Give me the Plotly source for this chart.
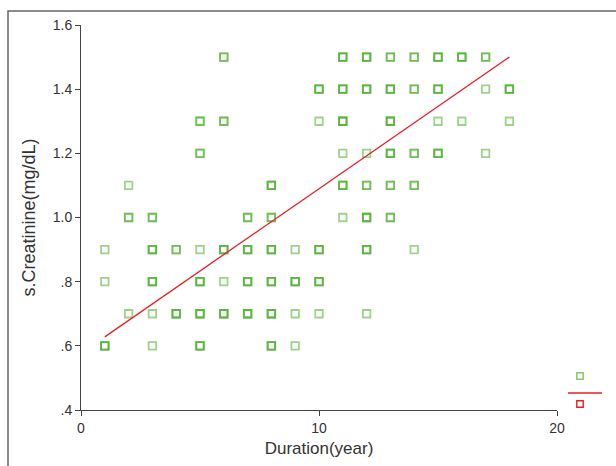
import numpy as np
import plotly.graph_objects as go

# Observed points: (duration, creatinine, how many overlapping observations the shade suggests)
duration = [6, 11, 12, 13, 14, 15, 16, 17,
            10, 11, 12, 13, 14, 15, 17, 18,
            5, 6, 10, 11, 13, 15, 16, 18,
            5, 11, 12, 13, 14, 15, 17,
            2, 8, 11, 12, 13, 14,
            2, 3, 7, 8, 11, 12, 13,
            1, 3, 4, 5, 6, 7, 8, 9, 10, 12, 14,
            1, 3, 5, 6, 7, 8, 9, 10,
            2, 3, 4, 5, 6, 7, 8, 9, 10, 12,
            1, 3, 5, 8, 9]
creatinine = [1.5] * 8 + [1.4] * 8 + [1.3] * 8 + [1.2] * 7 + [1.1] * 6 + [1.0] * 7 \
    + [0.9] * 11 + [0.8] * 8 + [0.7] * 10 + [0.6] * 5
overlap = [2, 3, 3, 2, 2, 3, 3, 2,
           3, 3, 3, 3, 2, 3, 1, 3,
           2, 2, 1, 3, 3, 1, 1, 1,
           2, 1, 1, 3, 2, 3, 1,
           1, 3, 3, 2, 2, 2,
           2, 2, 2, 2, 1, 3, 2,
           1, 3, 2, 1, 3, 3, 3, 1, 3, 3, 1,
           1, 3, 3, 1, 3, 3, 3, 3,
           1, 1, 3, 3, 3, 3, 3, 1, 1, 1,
           3, 1, 3, 3, 1]

# Linear fit line
fit_x = [1, 18]
fit_y = [0.628, 1.50]

x_ticks = [0, 10, 20]
x_ticktext = ["0", "10", "20"]
y_ticks = [0.4, 0.6, 0.8, 1.0, 1.2, 1.4, 1.6]
y_ticktext = [".4", ".6", ".8", "1.0", "1.2", "1.4", "1.6"]

px_x = np.repeat(duration, overlap)
px_y = np.repeat(creatinine, overlap)

W, H = 616, 466
L, R, T, B = 81, 59, 25, 56
pw, ph = W - L - R, H - T - B


def paper_x(p):
    return (p - L) / pw


def paper_y(p):
    return (H - B - p) / ph


fig = go.Figure()
fig.add_trace(go.Scatter(
    x=px_x, y=px_y, mode="markers",
    marker=dict(symbol="square-open", size=7.5, color="#4aae2c", opacity=0.55,
                line=dict(width=1.8)),
    showlegend=False, hoverinfo="x+y"))
fig.add_trace(go.Scatter(
    x=fit_x, y=fit_y, mode="lines",
    line=dict(color="#ec1c24", width=1.3),
    showlegend=False))

shapes = []
# outer frame
shapes.append(dict(type="rect", xref="paper", yref="paper",
                   x0=paper_x(8), x1=paper_x(700), y0=paper_y(600), y1=paper_y(11),
                   line=dict(color="#666666", width=1.5), fillcolor="rgba(0,0,0,0)"))
# legend glyphs (labels cut off in the original)
s = 3.2
shapes.append(dict(type="rect", xref="paper", yref="paper",
                   x0=paper_x(580 - s), x1=paper_x(580 + s), y0=paper_y(376 + s), y1=paper_y(376 - s),
                   line=dict(color="#7acb5c", width=1.4)))
shapes.append(dict(type="line", xref="paper", yref="paper",
                   x0=paper_x(568), x1=paper_x(602), y0=paper_y(393), y1=paper_y(393),
                   line=dict(color="#ec1c24", width=1.3)))
shapes.append(dict(type="rect", xref="paper", yref="paper",
                   x0=paper_x(580 - s), x1=paper_x(580 + s), y0=paper_y(404 + s), y1=paper_y(404 - s),
                   line=dict(color="#ec1c24", width=1.4)))

axis_common = dict(showline=True, linecolor="#444444", linewidth=1, ticks="outside",
                   ticklen=5, tickcolor="#444444", tickwidth=1, showgrid=False, zeroline=False,
                   tickfont=dict(family="Liberation Sans, Arial, sans-serif", size=14, color="#333333"))

fig.update_layout(
    width=W, height=H,
    margin=dict(l=L, r=R, t=T, b=B, pad=0),
    plot_bgcolor="white", paper_bgcolor="white",
    font=dict(family="Liberation Sans, Arial, sans-serif", color="#333333"),
    xaxis=dict(range=[0, 20], tickvals=x_ticks, ticktext=x_ticktext,
               title=dict(text="Duration(year)", font=dict(size=17), standoff=7),
               **axis_common),
    yaxis=dict(range=[0.4, 1.6], tickvals=y_ticks, ticktext=y_ticktext,
               title=dict(text="s.Creatinine(mg/dL)", font=dict(size=18), standoff=12),
               **axis_common),
    shapes=shapes,
)

fig.write_html("out.html", config={"displayModeBar": False},
               post_script="document.body.style.margin='0';")
